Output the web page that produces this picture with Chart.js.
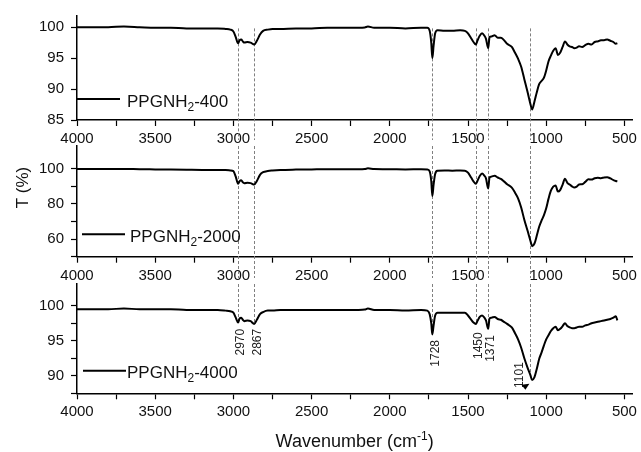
<!DOCTYPE html>
<html>
<head>
<meta charset="utf-8">
<title>FTIR PPGNH2</title>
<script src="https://cdn.jsdelivr.net/npm/chart.js@4.4.1/dist/chart.umd.min.js"></script>
<style>
body { margin: 0; background: #fff; }
#wrap { position: relative; width: 641px; height: 452px; overflow: hidden; background: #fff; }
#wrap canvas { position: absolute; left: 0; }
</style>
</head>
<body>
<div id="wrap">
  <canvas id="c400" width="641" height="150" style="top:0px"></canvas>
  <canvas id="c2000" width="641" height="160" style="top:130px"></canvas>
  <canvas id="c4000" width="641" height="184" style="top:268px"></canvas>
</div>
<script>
// wavenumber grid (cm-1) shared by the three spectra
var wavenumbers = [4000, 3900, 3800, 3700, 3600, 3500, 3400, 3300, 3200, 3100, 3050, 3020, 3000, 2985, 2970, 2960, 2950, 2940, 2930, 2910, 2890, 2867, 2850, 2830, 2810, 2780, 2750, 2700, 2600, 2500, 2400, 2300, 2200, 2160, 2140, 2100, 2000, 1900, 1800, 1760, 1745, 1735, 1728, 1720, 1710, 1695, 1650, 1600, 1550, 1520, 1500, 1480, 1465, 1450, 1440, 1425, 1410, 1395, 1385, 1371, 1362, 1350, 1330, 1310, 1290, 1270, 1250, 1220, 1200, 1180, 1160, 1140, 1120, 1101, 1090, 1075, 1060, 1045, 1030, 1015, 1000, 985, 970, 955, 940, 925, 910, 895, 880, 865, 850, 835, 820, 805, 790, 770, 750, 730, 710, 690, 670, 650, 630, 610, 590, 570, 555, 545];

var t400 = [100.0, 100.0, 100.0, 100.1, 100.0, 99.9, 99.9, 99.8, 99.8, 99.8, 99.7, 99.6, 99.3, 98.4, 97.4, 97.9, 98.0, 97.7, 97.5, 97.6, 97.5, 97.2, 97.8, 98.8, 99.4, 99.6, 99.7, 99.7, 99.8, 99.8, 99.9, 99.9, 99.9, 99.95, 100.1, 99.9, 99.9, 99.8, 99.9, 99.9, 99.4, 97.5, 95.0, 97.0, 99.0, 99.5, 99.4, 99.4, 99.5, 99.4, 99.0, 98.2, 97.6, 97.2, 97.8, 98.6, 99.0, 98.6, 98.1, 96.6, 98.4, 98.5, 98.7, 98.3, 98.3, 97.9, 97.3, 96.8, 95.9, 94.9, 93.6, 91.6, 89.6, 87.6, 86.7, 88.0, 89.5, 90.8, 91.3, 91.8, 93.0, 94.5, 95.4, 96.2, 96.6, 95.5, 95.9, 96.8, 97.7, 97.2, 96.9, 96.8, 96.6, 96.7, 96.9, 96.8, 97.1, 97.3, 97.2, 97.6, 97.7, 97.9, 97.9, 98.0, 97.8, 97.6, 97.3, 97.4];

var t2000 = [99.8, 99.8, 99.8, 99.9, 99.7, 99.6, 99.5, 99.4, 99.3, 99.3, 99.2, 99.0, 98.6, 95.5, 91.4, 93.0, 93.5, 92.3, 91.8, 92.0, 91.8, 91.0, 93.0, 96.5, 98.0, 98.7, 99.0, 99.3, 99.5, 99.6, 99.7, 99.7, 99.7, 99.8, 100.2, 99.8, 99.7, 99.6, 99.7, 99.6, 98.5, 93.0, 84.5, 91.0, 97.0, 98.8, 99.0, 98.9, 99.0, 98.9, 97.8, 95.0, 92.8, 91.4, 93.0, 95.8, 97.3, 96.0, 94.5, 88.7, 95.2, 95.5, 96.0, 95.0, 94.2, 92.8, 91.2, 89.2, 86.5, 83.2, 78.0, 71.0, 65.0, 59.1, 56.0, 57.5, 62.0, 67.0, 70.5, 73.5, 77.5, 83.0, 87.5, 89.8, 90.5, 87.0, 88.0, 91.0, 94.3, 92.0, 91.0, 90.0, 89.3, 89.8, 91.0, 91.2, 92.5, 94.0, 93.8, 94.6, 94.9, 94.6, 95.0, 95.2, 94.5, 93.5, 93.0, 92.8];

var t4000 = [99.5, 99.5, 99.5, 99.6, 99.5, 99.5, 99.5, 99.4, 99.4, 99.4, 99.3, 99.2, 99.0, 98.3, 97.6, 98.2, 98.3, 98.0, 97.8, 97.9, 97.8, 97.4, 98.0, 98.8, 99.1, 99.3, 99.3, 99.4, 99.4, 99.4, 99.4, 99.4, 99.4, 99.45, 99.6, 99.4, 99.4, 99.3, 99.4, 99.3, 98.8, 97.5, 95.9, 97.2, 98.6, 99.0, 99.0, 99.0, 99.0, 99.0, 98.6, 98.0, 97.6, 97.4, 97.8, 98.4, 98.6, 98.3, 97.9, 96.7, 98.2, 98.3, 98.4, 98.1, 98.0, 97.7, 97.4, 96.9, 96.1, 95.2, 94.0, 92.5, 91.2, 90.1, 89.4, 89.8, 91.0, 92.4, 93.3, 94.3, 95.2, 95.8, 96.4, 96.8, 97.0, 96.5, 96.7, 97.1, 97.5, 97.1, 96.9, 96.8, 96.8, 96.9, 97.0, 97.0, 97.2, 97.3, 97.5, 97.6, 97.7, 97.8, 97.9, 98.0, 98.1, 98.3, 98.5, 97.9];

// x ticks every 250, labels every 500
var xTicks = [4000, 3750, 3500, 3250, 3000, 2750, 2500, 2250, 2000, 1750, 1500, 1250, 1000, 750, 500];
var xLabelled = [4000, 3500, 3000, 2500, 2000, 1500, 1000, 500];

var yTicks400 = [85, 87.5, 90, 92.5, 95, 97.5, 100];
var yLabels400 = [85, 90, 95, 100];
var yTicks2000 = [50, 60, 70, 80, 90, 100];
var yLabels2000 = [60, 80, 100];
var yTicks4000 = [87.5, 90, 92.5, 95, 97.5, 100];
var yLabels4000 = [90, 95, 100];

// marked bands: position, label, where the guide line stops on the bottom trace, label centre (T of bottom panel)
var peakWn = [2970, 2867, 1728, 1450, 1371, 1101];
var peakText = ['2970', '2867', '1728', '1450', '1371', '1101'];
var peakLineEnd = [97.8, 97.6, 95.9, 97.6, 96.9, 89.9];
var peakLabelT = [94.8, 94.8, 93.2, 94.3, 93.9, 90.1];

var FONT = "'Liberation Sans', Arial, Helvetica, sans-serif";

function drawGuides(chart, yStart, yEnd) {
    var ctx = chart.ctx;
    var xs = chart.scales.x;
    ctx.save();
    ctx.strokeStyle = '#808080';
    ctx.lineWidth = 1;
    ctx.setLineDash([3, 2]);
    for (var i = 0; i < peakWn.length; i++) {
        var px = Math.round(xs.getPixelForValue(peakWn[i])) + 0.5;
        var ye = typeof yEnd === 'function' ? yEnd(i) : yEnd;
        ctx.beginPath();
        ctx.moveTo(px, yStart);
        ctx.lineTo(px, ye);
        ctx.stroke();
    }
    ctx.restore();
}

function drawLegend(chart, lx0, lx1, ly, tx, tb, suffix) {
    var ctx = chart.ctx;
    ctx.save();
    ctx.strokeStyle = '#000';
    ctx.lineWidth = 2;
    ctx.beginPath();
    ctx.moveTo(lx0, ly);
    ctx.lineTo(lx1, ly);
    ctx.stroke();
    ctx.fillStyle = '#111';
    ctx.textBaseline = 'alphabetic';
    ctx.textAlign = 'left';
    ctx.font = '17px ' + FONT;
    ctx.fillText('PPGNH', tx, tb);
    var w = ctx.measureText('PPGNH').width;
    ctx.font = '12px ' + FONT;
    ctx.fillText('2', tx + w, tb + 4);
    var w2 = ctx.measureText('2').width;
    ctx.font = '17px ' + FONT;
    ctx.fillText('-' + suffix, tx + w + w2, tb);
    ctx.restore();
}

function makePanel(id, values, yMin, yMax, yTicks, yLabels, padTop, xHeight, extra) {
    var pts = [];
    for (var i = 0; i < wavenumbers.length; i++) {
        pts.push({x: wavenumbers[i], y: values[i]});
    }
    var ctx = document.getElementById(id).getContext('2d');
    return new Chart(ctx, {
        type: 'line',
        data: {
            datasets: [{
                data: pts,
                borderColor: '#000',
                borderWidth: 2,
                pointRadius: 0,
                fill: false,
                cubicInterpolationMode: 'monotone'
            }]
        },
        options: {
            responsive: false,
            animation: false,
            devicePixelRatio: 1,
            layout: {padding: {top: padTop, right: 6, left: 0, bottom: 0}},
            plugins: {legend: {display: false}, tooltip: {enabled: false}},
            scales: {
                x: {
                    type: 'linear',
                    reverse: true,
                    min: 450,
                    max: 4000,
                    afterBuildTicks: function(s) { s.ticks = xTicks.map(function(v) { return {value: v}; }); },
                    afterFit: function(s) { s.height = xHeight; },
                    border: {color: '#000', width: 1.5},
                    grid: {drawOnChartArea: false, tickLength: 6, tickColor: '#000', tickWidth: 1.2},
                    ticks: {
                        autoSkip: false, maxRotation: 0, padding: 4, color: '#111',
                        font: {size: 15, family: FONT},
                        callback: function(v) { return xLabelled.indexOf(v) >= 0 ? String(v) : ''; }
                    }
                },
                y: {
                    type: 'linear',
                    min: yMin,
                    max: yMax,
                    afterBuildTicks: function(s) { s.ticks = yTicks.map(function(v) { return {value: v}; }); },
                    afterFit: function(s) { s.width = 77; },
                    border: {color: '#000', width: 1.5},
                    grid: {drawOnChartArea: false, tickLength: 6, tickColor: '#000', tickWidth: 1.2},
                    ticks: {
                        padding: 7, color: '#111',
                        font: {size: 15, family: FONT},
                        callback: function(v) { return yLabels.indexOf(v) >= 0 ? String(v) : ''; }
                    }
                }
            }
        },
        plugins: [{
            id: 'extras',
            beforeDatasetsDraw: function(chart) { extra.guides(chart); },
            afterDraw: function(chart) { extra.after(chart); }
        }]
    });
}

// top panel: canvas at 0, next plot area starts at 140
makePanel('c400', t400, 85, 101.8, yTicks400, yLabels400, 11, 30, {
    guides: function(chart) {
        drawGuides(chart, chart.scales.y.getPixelForValue(99.8), 140);
    },
    after: function(chart) {
        var l = chart.chartArea.left;
        drawLegend(chart, l, l + 43, 99, l + 50, 106.5, '400');
    }
});

// middle panel: canvas at 130
makePanel('c2000', t2000, 50, 112.9, yTicks2000, yLabels2000, 10, 33.3, {
    guides: function(chart) {
        drawGuides(chart, chart.chartArea.top, 278 - 130);
    },
    after: function(chart) {
        var l = chart.chartArea.left;
        drawLegend(chart, l + 5, l + 48, 104.3, l + 53, 111.5, '2000');
        var ctx = chart.ctx;
        ctx.save();
        ctx.translate(23.5, 187.5 - 130);
        ctx.rotate(-Math.PI / 2);
        ctx.fillStyle = '#111';
        ctx.font = '17px ' + FONT;
        ctx.textAlign = 'center';
        ctx.textBaseline = 'middle';
        ctx.fillText('T (%)', 0, 0);
        ctx.restore();
    }
});

// bottom panel: canvas at 268
makePanel('c4000', t4000, 87.5, 103.1, yTicks4000, yLabels4000, 10, 58.7, {
    guides: function(chart) {
        var ys = chart.scales.y;
        drawGuides(chart, chart.chartArea.top, function(i) { return ys.getPixelForValue(peakLineEnd[i]); });
    },
    after: function(chart) {
        var l = chart.chartArea.left;
        drawLegend(chart, l + 6, l + 49, 102.7, l + 50, 110, '4000');
        var ctx = chart.ctx;
        var xs = chart.scales.x, ys = chart.scales.y;
        ctx.save();
        ctx.fillStyle = '#222';
        ctx.font = '12px ' + FONT;
        ctx.textAlign = 'center';
        ctx.textBaseline = 'middle';
        for (var i = 0; i < peakWn.length; i++) {
            var px = xs.getPixelForValue(peakWn[i]);
            var dx = peakText[i] === '1101' ? -11 : 3;
            ctx.save();
            ctx.translate(px + dx, ys.getPixelForValue(peakLabelT[i]));
            ctx.rotate(-Math.PI / 2);
            ctx.fillText(peakText[i], 0, 0);
            ctx.restore();
        }
        // small arrow head under the 1101 band
        var ax = xs.getPixelForValue(1101), ay = ys.getPixelForValue(89.0);
        ctx.fillStyle = '#000';
        ctx.beginPath();
        ctx.moveTo(ax - 1, ay + 1);
        ctx.lineTo(ax - 9, ay + 2);
        ctx.lineTo(ax - 5, ay + 7);
        ctx.closePath();
        ctx.fill();
        // axis title
        var cx = (chart.chartArea.left + chart.chartArea.right) / 2;
        var base = chart.chartArea.bottom + 53.5;
        var a = 'Wavenumber (cm', sup = '-1', b = ')';
        ctx.font = '18px ' + FONT;
        var wa = ctx.measureText(a).width, wb = ctx.measureText(b).width;
        ctx.font = '12px ' + FONT;
        var ws = ctx.measureText(sup).width;
        var x0 = cx - (wa + ws + wb) / 2;
        ctx.fillStyle = '#111';
        ctx.textAlign = 'left';
        ctx.textBaseline = 'alphabetic';
        ctx.font = '18px ' + FONT;
        ctx.fillText(a, x0, base);
        ctx.font = '12px ' + FONT;
        ctx.fillText(sup, x0 + wa, base - 7);
        ctx.font = '18px ' + FONT;
        ctx.fillText(b, x0 + wa + ws, base);
        ctx.restore();
    }
});
</script>
</body>
</html>
